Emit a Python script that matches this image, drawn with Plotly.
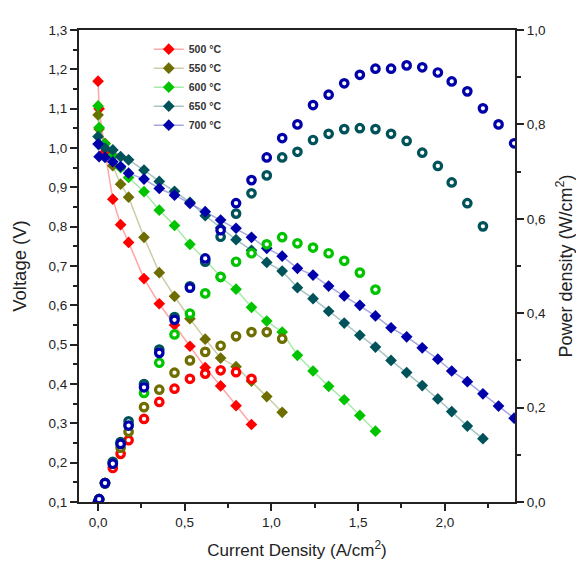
import plotly.graph_objects as go

# Current density (A/cm2) shared grid
current = [0.0, 0.006, 0.04, 0.085, 0.13, 0.176, 0.265, 0.353, 0.441, 0.530, 0.618,
           0.707, 0.796, 0.885, 0.973, 1.062, 1.15, 1.24, 1.33, 1.42, 1.51, 1.60,
           1.69, 1.78, 1.87, 1.96, 2.04, 2.13, 2.22, 2.31, 2.40]

temps = ["500 °C", "550 °C", "600 °C", "650 °C", "700 °C"]

voltage_500 = [1.17, 1.10, 0.99, 0.87, 0.805, 0.76, 0.668, 0.604, 0.55, 0.496, 0.442,
               0.395, 0.345, 0.297]
voltage_550 = [1.084, 1.048, 1.012, 0.955, 0.908, 0.875, 0.773, 0.683, 0.623, 0.566,
               0.514, 0.466, 0.444, 0.407, 0.368, 0.328]
voltage_600 = [1.107, 1.052, 1.01, 0.98, 0.95, 0.925, 0.889, 0.842, 0.803, 0.755, 0.716,
               0.672, 0.641, 0.595, 0.560, 0.532, 0.473, 0.433, 0.394, 0.360, 0.320, 0.280]
voltage_650 = [1.029, 1.01, 1.0, 0.995, 0.978, 0.970, 0.944, 0.915, 0.89, 0.862, 0.828,
               0.797, 0.767, 0.740, 0.709, 0.687, 0.645, 0.617, 0.585, 0.555, 0.524,
               0.494, 0.460, 0.429, 0.396, 0.362, 0.330, 0.293, 0.261]
voltage_700 = [1.010, 0.978, 0.976, 0.965, 0.953, 0.936, 0.921, 0.897, 0.880, 0.859,
               0.838, 0.817, 0.796, 0.773, 0.745, 0.725, 0.694, 0.677, 0.649, 0.624,
               0.600, 0.573, 0.543, 0.520, 0.492, 0.463, 0.433, 0.406, 0.375, 0.344, 0.313]

power_500 = [0.0, 0.006, 0.040, 0.072, 0.102, 0.131, 0.176, 0.212, 0.240, 0.261, 0.272,
             0.279, 0.275, 0.261]
power_550 = [0.0, 0.006, 0.040, 0.081, 0.115, 0.149, 0.201, 0.238, 0.274, 0.300, 0.318,
             0.331, 0.351, 0.360, 0.360, 0.346]
power_600 = [0.0, 0.006, 0.040, 0.083, 0.124, 0.163, 0.231, 0.295, 0.355, 0.399, 0.442,
             0.477, 0.509, 0.527, 0.546, 0.561, 0.548, 0.539, 0.527, 0.511, 0.486, 0.450]
power_650 = [0.0, 0.006, 0.040, 0.085, 0.127, 0.171, 0.250, 0.323, 0.392, 0.457, 0.509,
             0.562, 0.611, 0.654, 0.692, 0.730, 0.742, 0.767, 0.780, 0.790, 0.792, 0.790,
             0.780, 0.765, 0.740, 0.712, 0.677, 0.633, 0.584]
power_700 = [0.0, 0.006, 0.040, 0.081, 0.123, 0.162, 0.243, 0.316, 0.386, 0.454, 0.516,
             0.576, 0.633, 0.682, 0.730, 0.771, 0.800, 0.841, 0.863, 0.887, 0.905, 0.918,
             0.918, 0.925, 0.921, 0.910, 0.891, 0.870, 0.834, 0.800, 0.760]

voltages = [voltage_500, voltage_550, voltage_600, voltage_650, voltage_700]
powers = [power_500, power_550, power_600, power_650, power_700]
colors = ["#FF0000", "#6E6E00", "#00C400", "#00525A", "#0000AA"]
line_colors = ["rgba(255,0,0,0.35)", "rgba(110,110,0,0.35)", "rgba(0,196,0,0.35)",
               "rgba(0,82,90,0.35)", "rgba(0,0,170,0.35)"]

fig = go.Figure()

for t, v, c, lc in zip(temps, voltages, colors, line_colors):
    fig.add_trace(go.Scatter(
        x=current[:len(v)], y=v, mode="lines+markers", name=t,
        line=dict(color=lc, width=1.5),
        marker=dict(symbol="diamond", size=9, color=c),
        yaxis="y"))

for t, p, c in zip(temps, powers, colors):
    fig.add_trace(go.Scatter(
        x=current[:len(p)], y=p, mode="markers", name=t, showlegend=False,
        marker=dict(symbol="circle", size=7.5, color="white",
                    line=dict(color=c, width=3.2)),
        yaxis="y2"))

font_family = "Liberation Sans, Arial, sans-serif"
axis_color = "#222222"

fig.update_layout(
    width=584, height=564,
    margin=dict(l=71, r=77, t=22, b=70),
    paper_bgcolor="white", plot_bgcolor="white",
    separators=",.",
    font=dict(family=font_family, color=axis_color, size=13),
    showlegend=True,
    legend=dict(x=0.16, y=0.99, xanchor="left", yanchor="top",
                bgcolor="rgba(0,0,0,0)", itemwidth=30, tracegroupgap=0,
                font=dict(size=10.5, color="#333333", family=font_family, weight="bold")),
    xaxis=dict(
        range=[-0.11, 2.405], tickvals=[0, 0.5, 1.0, 1.5, 2.0], tickformat=".1f",
        showgrid=False, zeroline=False, showline=True, linecolor=axis_color,
        linewidth=2, mirror=True, ticks="outside", ticklen=7, tickwidth=2,
        tickcolor=axis_color,
        minor=dict(tickvals=[0.25, 0.75, 1.25, 1.75, 2.25], ticks="outside",
                   ticklen=4, tickwidth=2, tickcolor=axis_color),
        tickfont=dict(size=13.5),
        title=dict(text="Current Density (A/cm<sup>2</sup>)", font=dict(size=17),
                   standoff=15)),
    yaxis=dict(
        range=[0.1, 1.3], dtick=0.1, tick0=0.1, tickformat=".1f",
        showgrid=False, zeroline=False, showline=True, linecolor=axis_color,
        linewidth=2, ticks="outside", ticklen=7, tickwidth=2, tickcolor=axis_color,
        minor=dict(dtick=0.05, ticks="outside", ticklen=4, tickwidth=2,
                   tickcolor=axis_color),
        tickfont=dict(size=13.5),
        title=dict(text="Voltage (V)", font=dict(size=18.5), standoff=17)),
    yaxis2=dict(
        range=[0, 1.0], dtick=0.2, tickformat=".1f", overlaying="y", side="right",
        showgrid=False, zeroline=False, showline=True, linecolor=axis_color,
        linewidth=2, ticks="outside", ticklen=7, tickwidth=2, tickcolor=axis_color,
        minor=dict(dtick=0.1, ticks="outside", ticklen=4, tickwidth=2,
                   tickcolor=axis_color),
        tickfont=dict(size=13.5),
        title=dict(text="Power density (W/cm<sup>2</sup>)", font=dict(size=18),
                   standoff=14)),
)

fig.write_html("out.html")
